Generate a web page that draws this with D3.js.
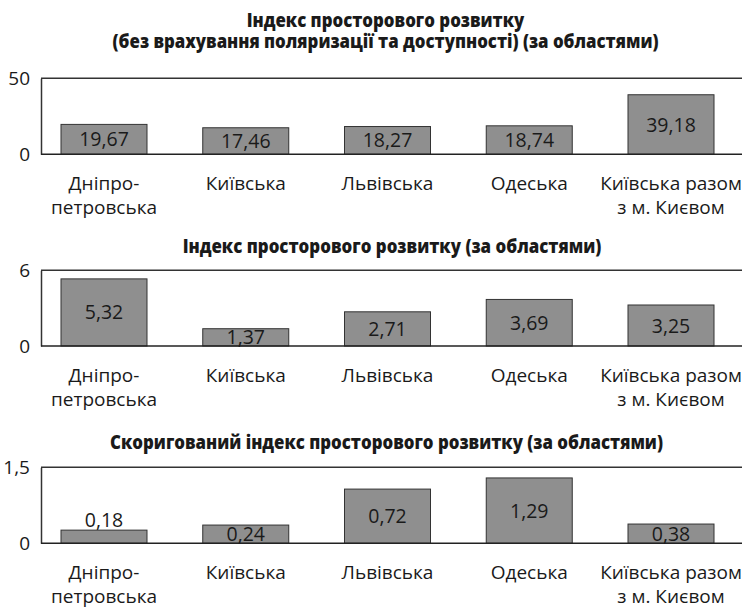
<!DOCTYPE html>
<html>
<head>
<meta charset="utf-8">
<script src="https://cdn.jsdelivr.net/npm/d3@7"></script>
<style>
  body { margin: 0; background: #fff; }
  text { font-family: "Open Sans", sans-serif; fill: #1a1a1a; }
</style>
</head>
<body>
<script>
// regions (shared by the three panels)
var categories = ["Дніпропетровська", "Київська", "Львівська", "Одеська", "Київська разом з м. Києвом"];
var categoryLines = [["Дніпро-", "петровська"], ["Київська"], ["Львівська"], ["Одеська"], ["Київська разом", "з м. Києвом"]];

// panel 1: index without polarisation and accessibility
var titles1 = ["Індекс просторового розвитку", "(без врахування поляризації та доступності) (за областями)"];
var values1 = [19.67, 17.46, 18.27, 18.74, 39.18];
var ticks1 = [0, 50];

// panel 2: spatial development index
var titles2 = ["Індекс просторового розвитку (за областями)"];
var values2 = [5.32, 1.37, 2.71, 3.69, 3.25];
var ticks2 = [0, 6];

// panel 3: adjusted index (bar heights as drawn, printed labels as shown)
var titles3 = ["Скоригований індекс просторового розвитку (за областями)"];
var values3 = [0.26, 0.36, 1.07, 1.29, 0.38];
var printed3 = [0.18, 0.24, 0.72, 1.29, 0.38];
var ticks3 = [0, 1.5];

var uk = d3.formatLocale({decimal: ",", thousands: " ", grouping: [3], currency: ["", " грн"]});
var fmtTick = uk.format("~g");
var fmtVal = uk.format(".2f");

var width = 742;
var height = 610;
var left = 41;

var svg = d3.select("body")
    .append("svg")
    .attr("width", width)
    .attr("height", height);

var x = d3.scaleBand()
    .domain(categories)
    .range([32.65, 742.35])
    .paddingInner(0.3933)
    .paddingOuter(0.2);

function panel(opts) {
  var y = d3.scaleLinear()
      .domain([0, opts.ticks[1]])
      .range([opts.base, opts.top]);

  var g = svg.append("g");

  // title: one text, narrowed horizontally to mimic the condensed face
  var title = g.append("text")
    .attr("text-anchor", "middle")
    .style("font-size", "20px")
    .style("font-weight", "800");
  var spans = [];
  opts.titles.forEach(function(t, i) {
    spans.push(title.append("tspan")
      .attr("x", 0)
      .attr("y", i * 21)
      .text(t));
  });
  var natural = d3.max(spans, function(s) { return s.node().getComputedTextLength(); });
  var k = opts.titleWidth / natural;
  title.attr("transform", "translate(" + opts.titleX + "," + opts.titleY + ") scale(" + k + ",1)");

  // top frame line
  g.append("line")
    .attr("x1", left).attr("x2", width)
    .attr("y1", y(opts.ticks[1])).attr("y2", y(opts.ticks[1]))
    .attr("stroke", "#333")
    .attr("stroke-width", 1.5);

  var yaxis = d3.axisLeft(y)
      .tickValues(opts.ticks)
      .tickSize(0)
      .tickSizeOuter(0)
      .tickPadding(11)
      .tickFormat(fmtTick);

  var ya = g.append("g")
    .attr("transform", "translate(" + left + ",0)")
    .call(yaxis);
  ya.select(".domain").attr("stroke", "#333").attr("stroke-width", 1.5);
  ya.selectAll("text")
    .style("font-family", "'Open Sans', sans-serif")
    .style("font-size", "19px")
    .attr("fill", "#1a1a1a");

  g.selectAll("rect.bar")
    .data(opts.values)
    .enter().append("rect")
    .attr("class", "bar")
    .attr("x", function(d, i) { return x(categories[i]); })
    .attr("width", x.bandwidth())
    .attr("y", function(d) { return y(d); })
    .attr("height", function(d) { return y(0) - y(d); })
    .attr("fill", "#8f8f8f")
    .attr("stroke", "#333")
    .attr("stroke-width", 1);

  // baseline
  g.append("line")
    .attr("x1", left).attr("x2", width)
    .attr("y1", y(0)).attr("y2", y(0))
    .attr("stroke", "#222")
    .attr("stroke-width", 1.5);

  g.selectAll("text.val")
    .data(opts.values)
    .enter().append("text")
    .attr("class", "val")
    .attr("x", function(d, i) { return x(categories[i]) + x.bandwidth() / 2; })
    .attr("y", function(d) {
      // too thin for the label: put it just above the bar
      if (y(0) - y(d) < 15) return y(d) - 3;
      return y(d / 2);
    })
    .attr("dy", function(d) { return (y(0) - y(d) < 15) ? "0" : "0.36em"; })
    .attr("text-anchor", "middle")
    .style("font-size", "19.5px")
    .text(function(d, i) { return fmtVal(opts.labels[i]); });

  var xaxis = d3.axisBottom(x).tickSize(0).tickFormat("");
  var xa = g.append("g")
    .attr("transform", "translate(0," + y(0) + ")")
    .call(xaxis);
  xa.select(".domain").remove();
  xa.selectAll(".tick").each(function(d, i) {
    var t = d3.select(this).append("text")
      .attr("text-anchor", "middle")
      .style("font-family", "'Open Sans', sans-serif")
      .style("font-size", "19px")
      .attr("fill", "#1a1a1a");
    categoryLines[i].forEach(function(line, j) {
      t.append("tspan")
        .attr("x", 0)
        .attr("y", 36 + j * 24)
        .text(line);
    });
  });
}

panel({
  titles: titles1, titleX: 385.5, titleY: 27, titleWidth: 546,
  values: values1, labels: values1, ticks: ticks1,
  top: 78.3, base: 154.3
});

panel({
  titles: titles2, titleX: 392, titleY: 253, titleWidth: 419,
  values: values2, labels: values2, ticks: ticks2,
  top: 270.3, base: 346
});

panel({
  titles: titles3, titleX: 386.5, titleY: 449, titleWidth: 553,
  values: values3, labels: printed3, ticks: ticks3,
  top: 467.3, base: 543.3
});
</script>
</body>
</html>
